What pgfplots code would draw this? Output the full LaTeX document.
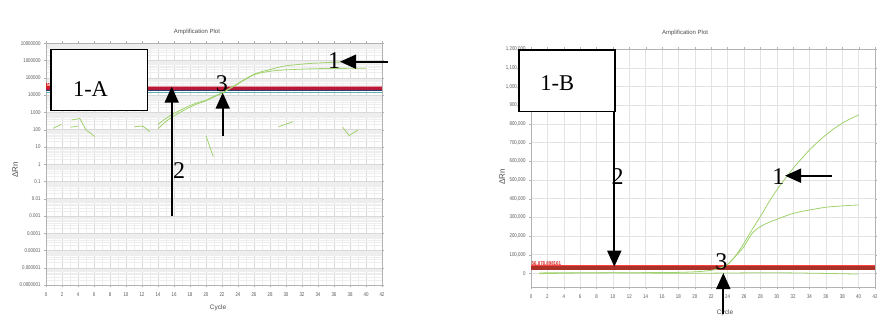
\documentclass[border=0pt]{standalone}
\usepackage{fontspec}
\setmainfont{Liberation Sans}
\newfontfamily\serif{Liberation Serif}
\newfontfamily\tickfont[FakeStretch=0.8]{Liberation Sans}
\usepackage{pgfplots}
\pgfplotsset{compat=1.18}
\usetikzlibrary{arrows.meta}
\def\minorlist{1e-7}
\foreach \e in {-7,...,6}{\foreach \m in {2,...,9}{\xdef\minorlist{\minorlist,\m e\e}}}
\definecolor{amp}{RGB}{160,210,110}
\definecolor{thredA}{RGB}{185,25,55}
\definecolor{tpink}{RGB}{232,150,160}
\definecolor{tnavy}{RGB}{45,60,115}
\definecolor{tteal}{RGB}{95,175,175}
\definecolor{thredB}{RGB}{170,50,40}
\definecolor{tlabel}{RGB}{215,30,30}
\pgfplotsset{
  ampstyle/.style={amp, line width=0.8pt},
  common/.style={
    scale only axis, anchor=south west,
    xmin=0, xmax=42, xtick={0,2,...,42},
    axis line style={gray!60}, tick style={gray!60},
    tick align=outside, major tick length=2pt, minor tick length=0pt,
    tick label style={font=\tickfont\fontsize{5.5}{6}\selectfont, text=black!65},
    xticklabel style={yshift=-2pt},
    /pgf/number format/assume math mode=true,
  }
}
\begin{document}
\begin{tikzpicture}
\useasboundingbox (0,0) rectangle (877pt,-327pt);
\fill[white] (0,0) rectangle (877pt,-327pt);
% ---------------- Panel A ----------------
\begin{axis}[common,
  at={(46pt,-285pt)}, width=336pt, height=241.7pt,
  ymode=log, ymin=1e-7, ymax=1e7,
  ytick={1e-7,1e-6,1e-5,1e-4,1e-3,1e-2,1e-1,1,10,100,1000,1e4,1e5,1e6,1e7},
  yticklabels={0.0000001,0.000001,0.00001,0.0001,0.001,0.01,0.1,1,10,100,1000,10000,100000,1000000,10000000},
  minor ytick/.expanded={\minorlist},
  minor x tick num=1,
  grid=both, major grid style={gray!30}, minor grid style={gray!13},
]
\addplot[tpink, line width=0.8pt] coordinates {(0,3.4e4)(42,3.4e4)};
\addplot[tteal, line width=1pt] coordinates {(0,1.45e4)(42,1.45e4)};
\addplot[tnavy, line width=1.3pt] coordinates {(0,1.84e4)(42,1.84e4)};
\addplot[thredA, line width=3.5pt] coordinates {(0,2.36e4)(42,2.36e4)};
\addplot[ampstyle, smooth] coordinates {(14,200)(15,450)(16,870)(17,1500)(18,2500)(19,3700)(20,5100)(21,8500)(22,13600)(23,25000)(24,47000)(25,90000)(26,160000)(27,230000)(28,300000)(29,400000)(30,500000)(31,560000)(32,620000)(33,680000)(34,720000)(35,760000)(36,800000)(37,820000)(38,830000)(39,840000)(40,850000)};
\addplot[ampstyle, smooth] coordinates {(14,110)(15,300)(16,620)(17,1150)(18,2000)(19,3200)(20,4700)(21,7800)(22,12800)(23,24000)(24,45000)(25,85000)(26,150000)(27,200000)(28,240000)(29,270000)(30,290000)(31,305000)(32,320000)(33,330000)(34,340000)(35,345000)(36,350000)(37,353000)(38,355000)(39,358000)(40,360000)};
\addplot[ampstyle] coordinates {(0.9,120)(1.95,205)};
\addplot[ampstyle] coordinates {(3.1,138)(4.0,162)};
\addplot[ampstyle] coordinates {(3.2,363)(4.24,437)(5.0,95)(6.1,40)};
\addplot[ampstyle] coordinates {(11.1,148)(12.1,162)(13,76)};
\addplot[ampstyle] coordinates {(20.0,43)(20.9,2.8)};
\addplot[ampstyle] coordinates {(29.1,148)(30.9,290)};
\addplot[ampstyle] coordinates {(37.1,135)(37.9,45)(39.0,95)};
\node[anchor=west, fill=tlabel, inner sep=0.6pt, font=\tickfont\fontsize{5}{5}\selectfont\bfseries, text=white] at (axis cs:0,3.6e4) {56,078.898161};
\end{axis}
% ---------------- Panel B ----------------
\begin{axis}[common,
  at={(531pt,-286.7pt)}, width=344pt, height=237.4pt,
  ymin=-71800, ymax=1200000,
  ytick={0,100000,200000,300000,400000,500000,600000,700000,800000,900000,1000000,1100000,1200000},
  yticklabels={0,{100,000},{200,000},{300,000},{400,000},{500,000},{600,000},{700,000},{800,000},{900,000},{1,000,000},{1,100,000},{1,200,000}},
  scaled y ticks=false,
  grid=major, major grid style={gray!22},
]
\addplot[red!75, line width=0.8pt] coordinates {(0,40000)(42,40000)};
\addplot[thredB, line width=4pt] coordinates {(0,28400)(42,28400)};
\addplot[ampstyle, smooth] coordinates {(1,-2000)(5,1000)(10,2500)(15,1000)(20,0)(25,2000)(30,3000)(35,0)(40,-4000)};
\addplot[ampstyle, smooth] coordinates {(1,2000)(5,3000)(10,2500)(15,4000)(18,5000)(20,8000)(21,11000)(22,16000)(23,26000)(24,48000)(25,95000)(26,161000)(27,235000)(28,304000)(29,378000)(30,446000)(31,505000)(32,562000)(33,613000)(34,661000)(35,703000)(36,741000)(37,775000)(38,804000)(39,828000)(40,848000)};
\addplot[ampstyle, smooth] coordinates {(23,26000)(24,47000)(25,93000)(26,143000)(27,214000)(28,250000)(29,272000)(30,289000)(31,306000)(32,321000)(33,331000)(34,339000)(35,347000)(36,354000)(37,358000)(38,361000)(39,364000)(40,366000)};
\node[anchor=south west, inner sep=0.5pt, font=\tickfont\fontsize{5.5}{5.5}\selectfont\bfseries, text=tlabel] at (axis cs:0,36000) {56,078.898161};
\end{axis}
% ---------------- titles and labels ----------------
\node[font=\fontsize{6}{7}\selectfont, text=black!70] at (197pt,-32pt) {Amplification Plot};
\node[font=\fontsize{6}{7}\selectfont, text=black!70] at (685pt,-33pt) {Amplification Plot};
\node[font=\fontsize{6.5}{7}\selectfont, text=black!70] at (218pt,-308pt) {Cycle};
\node[font=\fontsize{6.5}{7}\selectfont, text=black!70] at (725pt,-313pt) {Cycle};
\node[rotate=90, font=\fontsize{8}{9}\selectfont, text=black!70] at (15pt,-170pt) {ΔRn};
\node[rotate=90, font=\fontsize{8}{9}\selectfont, text=black!70] at (502pt,-177pt) {ΔRn};
% ---------------- annotations ----------------
\tikzset{ann/.style={line width=1.8pt, -{Triangle[length=16pt,width=14pt]}}}
\draw[line width=1.3pt, fill=white] (51pt,-49.3pt) rectangle (147.7pt,-110.7pt);
\node[font=\serif\fontsize{22.5}{24}\selectfont] at (90.5pt,-89.3pt) {1-A};
\draw[ann] (388pt,-61.7pt) -- (340pt,-61.7pt);
\node[font=\serif\fontsize{24}{26}\selectfont] at (334pt,-61pt) {1};
\draw[ann] (171.7pt,-216pt) -- (171.7pt,-86.7pt);
\node[font=\serif\fontsize{24}{26}\selectfont] at (179pt,-170.5pt) {2};
\draw[ann] (222.7pt,-136pt) -- (222.7pt,-92.7pt);
\node[font=\serif\fontsize{24}{26}\selectfont] at (221.8pt,-83.5pt) {3};
\draw[line width=1.3pt, fill=white] (519pt,-50pt) rectangle (615pt,-111.7pt);
\node[font=\serif\fontsize{22.5}{24}\selectfont] at (557.3pt,-82.7pt) {1-B};
\draw[ann] (614.3pt,-111.7pt) -- (614.3pt,-266.7pt);
\node[font=\serif\fontsize{24}{26}\selectfont] at (617.5pt,-176.7pt) {2};
\draw[ann] (831.7pt,-175.7pt) -- (785pt,-175.7pt);
\node[font=\serif\fontsize{24}{26}\selectfont] at (778.3pt,-176.2pt) {1};
\draw[ann] (723.3pt,-314pt) -- (723.3pt,-273pt);
\node[font=\serif\fontsize{24}{26}\selectfont] at (721.3pt,-261.7pt) {3};
\end{tikzpicture}
\end{document}
